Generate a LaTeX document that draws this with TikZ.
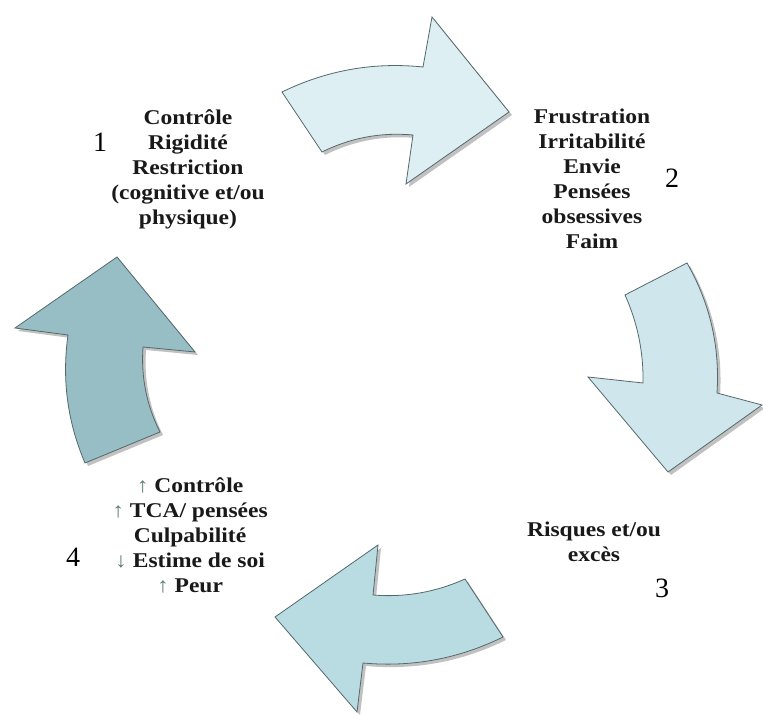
\documentclass[tikz,border=0pt]{standalone}
\usepackage{fontspec}
\setmainfont{Liberation Serif}
\newfontfamily\stepfont{Liberation Serif}[FakeStretch=1.12]
\usetikzlibrary{shadows}

\begin{document}
\begin{tikzpicture}[>=latex,line join=bevel]
  \pgfsetlinewidth{0.8bp}
  \tikzset{
    cycarrow/.style={draw=strokecol,fill=fillcol,line join=miter,
      drop shadow={shadow xshift=3bp,shadow yshift=-3bp,fill=black!35,opacity=0.7}},
    steptext/.style={align=center,inner sep=0pt,text=black!90,
      font=\stepfont\bfseries\fontsize{21bp}{25bp}\selectfont},
    stepnum/.style={inner sep=0pt,font=\fontsize{28bp}{28bp}\selectfont}
  }
  \definecolor{updown}{HTML}{5E7F74}
  \newcommand{\up}{{\mdseries\color{updown}↑}}
  \newcommand{\down}{{\mdseries\color{updown}↓}}
  \useasboundingbox (0bp,0bp) rectangle (763bp,715bp);
%%
  % Arrow: 1 -> 2
\begin{scope}
  \definecolor{fillcol}{HTML}{DDEFF3}
  \definecolor{strokecol}{HTML}{55686B}
  \draw[cycarrow] (282bp,623bp) .. controls (326.6bp,644.7bp) and (373.6bp,653.1bp) .. (423bp,648bp) -- (432bp,698bp) -- (509bp,603bp) -- (406bp,531bp) -- (413bp,580bp) .. controls (381.1bp,582.9bp) and (350.7bp,577.3bp) .. (322bp,563bp) -- cycle;
\end{scope}
  % Arrow: 2 -> 3
\begin{scope}
  \definecolor{fillcol}{HTML}{CFE7EC}
  \definecolor{strokecol}{HTML}{55686B}
  \draw[cycarrow] (687bp,452bp) .. controls (710bp,411.7bp) and (720bp,368.3bp) .. (717bp,322bp) -- (762bp,310bp) -- (668bp,243bp) -- (588bp,338bp) -- (643bp,332bp) .. controls (643.6bp,362.6bp) and (637.6bp,392bp) .. (625bp,420bp) -- cycle;
\end{scope}
  % Arrow: 3 -> 4
\begin{scope}
  \definecolor{fillcol}{HTML}{B9DCE3}
  \definecolor{strokecol}{HTML}{55686B}
  \draw[cycarrow] (465bp,136bp) -- (503bp,78bp) .. controls (458.7bp,56.2bp) and (412.1bp,47.6bp) .. (363bp,52bp) -- (357bp,3bp) -- (275bp,98bp) -- (378bp,170bp) -- (373bp,120bp) .. controls (405.1bp,117.4bp) and (435.7bp,122.8bp) .. cycle;
\end{scope}
  % Arrow: 4 -> 1
\begin{scope}
  \definecolor{fillcol}{HTML}{97BEC5}
  \definecolor{strokecol}{HTML}{55686B}
  \draw[cycarrow] (85bp,252bp) -- (160bp,283bp) .. controls (146.5bp,309.7bp) and (140.9bp,338.1bp) .. (143bp,368bp) -- (195bp,363bp) -- (117bp,458bp) -- (15bp,387bp) -- (68bp,380bp) .. controls (61.8bp,335.7bp) and (67.4bp,293.1bp) .. cycle;
\end{scope}
%%
  % Node: 1
  \node[steptext] (step1) at (188bp,546bp) {Contrôle\\Rigidité\\Restriction\\(cognitive et/ou\\physique)};
  \node[stepnum] (num1) at (100bp,573bp) {1};
  % Node: 2
  \node[steptext] (step2) at (592bp,536bp) {Frustration\\Irritabilité\\Envie\\Pensées\\obsessives\\Faim};
  \node[stepnum] (num2) at (672bp,537bp) {2};
  % Node: 3
  \node[steptext] (step3) at (594bp,173bp) {Risques et/ou\\excès};
  \node[stepnum] (num3) at (662bp,127bp) {3};
  % Node: 4
  \node[steptext] (step4) at (190bp,180bp) {\up{} Contrôle\\\up{} TCA/ pensées\\Culpabilité\\\down{} Estime de soi\\\up{} Peur};
  \node[stepnum] (num4) at (73bp,158bp) {4};
%
\end{tikzpicture}
\end{document}
